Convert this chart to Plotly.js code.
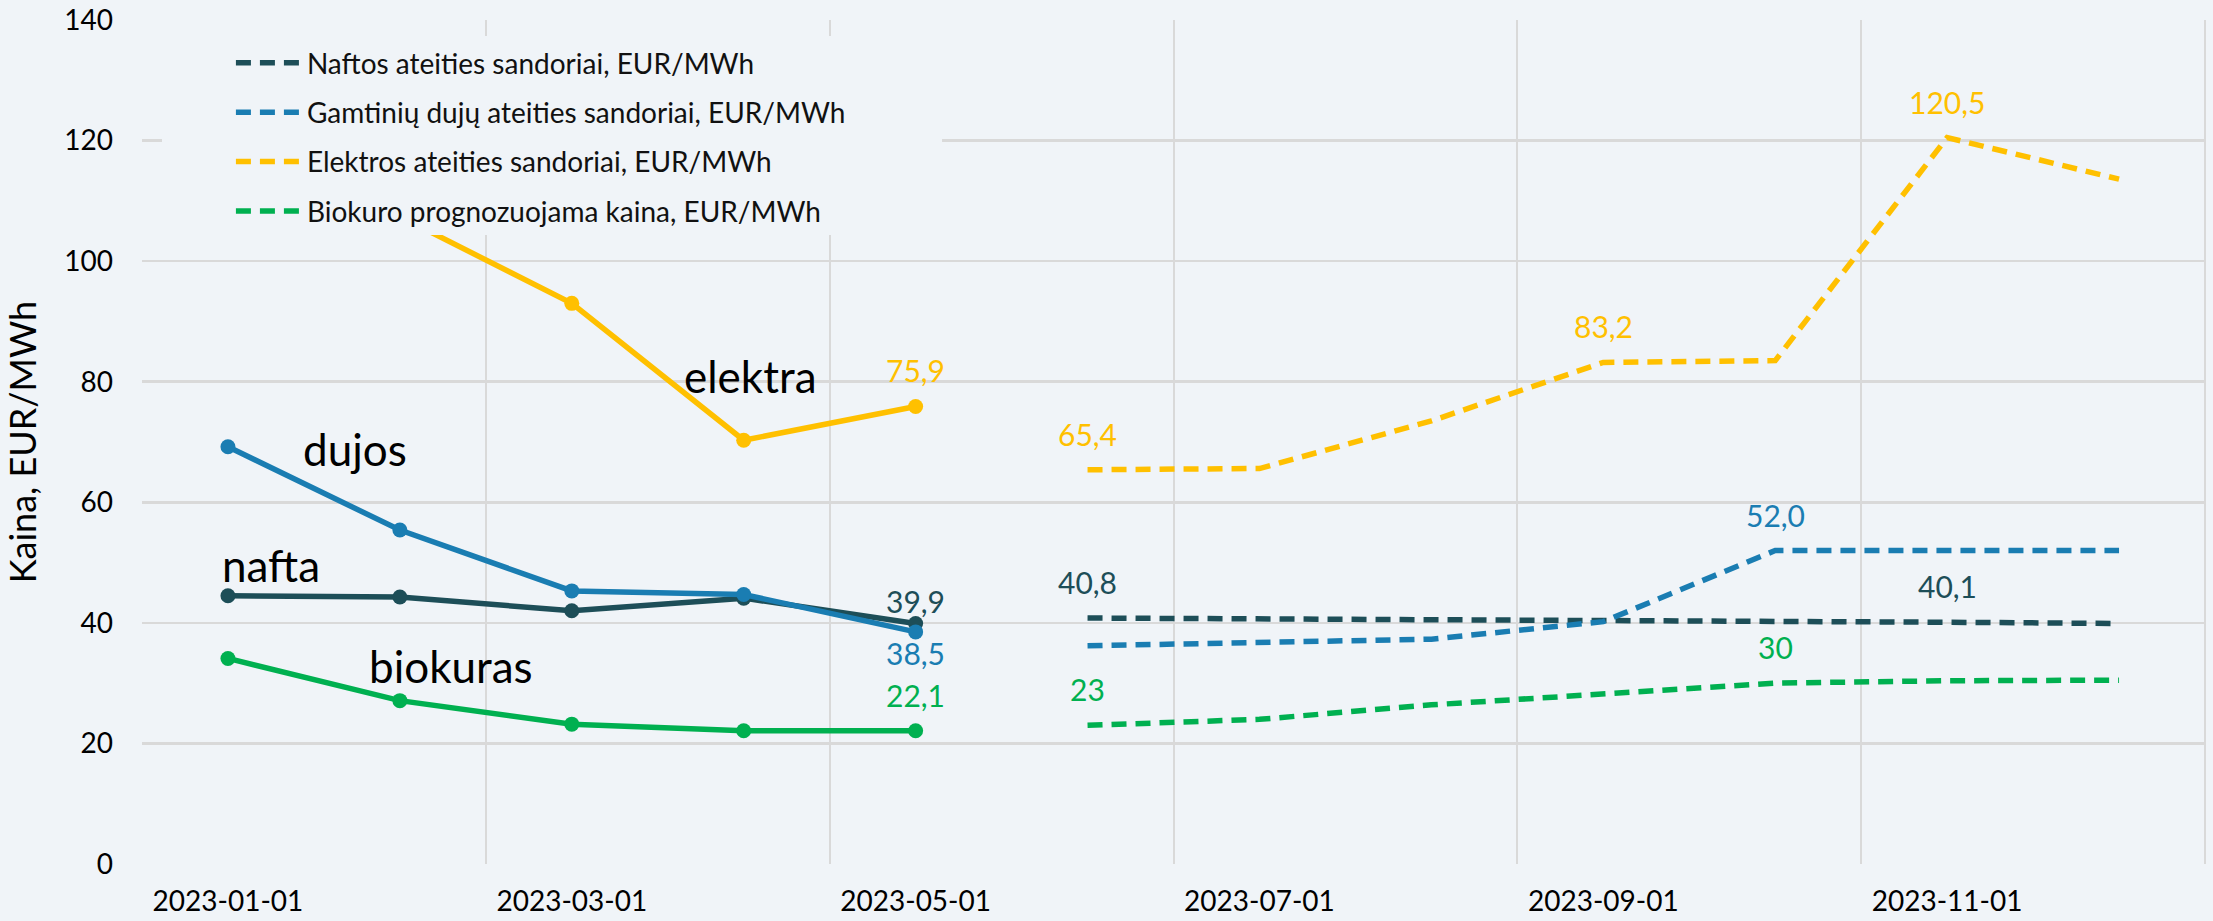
<!DOCTYPE html>
<html>
<head>
<meta charset="utf-8">
<script src="https://cdn.plot.ly/plotly-3.0.1.min.js"></script>
<style>
  html, body { margin: 0; padding: 0; background: #F0F4F8; }
  #chart { width: 2213px; height: 921px; }
</style>
</head>
<body>
<div id="chart"></div>
<script>
// ---- data ----
const months = ['2023-01-01','2023-02-01','2023-03-01','2023-04-01','2023-05-01','2023-06-01',
                '2023-07-01','2023-08-01','2023-09-01','2023-10-01','2023-11-01','2023-12-01'];
const tickLabels = ['2023-01-01','2023-03-01','2023-05-01','2023-07-01','2023-09-01','2023-11-01'];

const factMonths = ['2023-01-01','2023-02-01','2023-03-01','2023-04-01','2023-05-01'];
const futMonths  = ['2023-06-01','2023-07-01','2023-08-01','2023-09-01','2023-10-01','2023-11-01','2023-12-01'];

const naftaFact    = [44.5, 44.3, 42.0, 44.1, 39.9];
const dujosFact    = [69.2, 55.4, 45.3, 44.7, 38.5];
const elektraFact  = [118.0, 107.4, 93.0, 70.3, 75.9];
const biokurasFact = [34.1, 27.1, 23.2, 22.1, 22.1];

const naftaFut   = [40.8, 40.7, 40.6, 40.5, 40.3, 40.1, 39.9];
const dujosFut   = [36.2, 36.7, 37.3, 40.2, 52.0, 52.0, 52.0];
const elektraFut = [65.4, 65.6, 73.5, 83.2, 83.5, 120.5, 113.6];
const biokuroFut = [23.0, 24.0, 26.4, 28.3, 30.0, 30.4, 30.5];

const legendNames = [
  'Naftos ateities sandoriai, EUR/MWh',
  'Gamtinių dujų ateities sandoriai, EUR/MWh',
  'Elektros ateities sandoriai, EUR/MWh',
  'Biokuro prognozuojama kaina, EUR/MWh'
];
const seriesTags = ['nafta', 'dujos', 'elektra', 'biokuras'];

// data labels: which series, which point, text
const labelSeries = ['elektraFact','naftaFact','dujosFact','biokurasFact','naftaFut','biokuroFut',
                     'elektraFut','elektraFut','elektraFut','dujosFut','naftaFut','biokuroFut'];
const labelPoint  = [4, 4, 4, 4, 0, 0, 0, 3, 5, 4, 5, 4];
const labelText   = ['75,9','39,9','38,5','22,1','40,8','23','65,4','83,2','120,5','52,0','40,1','30'];

// ---- styling ----
const C = { nafta: '#1D4E58', dujos: '#1A7DB2', elektra: '#FFC000', biokuras: '#00B050' };
const BG = '#F0F4F8';
const GRID = '#D9D9D9';
const FONT = "Lato, 'Open Sans', 'Liberation Sans', sans-serif";

const idx = m => months.indexOf(m);
const factX = factMonths.map(idx);
const futX = futMonths.map(idx);

const series = {
  naftaFact, dujosFact, elektraFact, biokurasFact, naftaFut, dujosFut, elektraFut, biokuroFut
};
const seriesX = {
  naftaFact: factX, dujosFact: factX, elektraFact: factX, biokurasFact: factX,
  naftaFut: futX, dujosFut: futX, elektraFut: futX, biokuroFut: futX
};
const seriesColor = {
  naftaFact: C.nafta, dujosFact: C.dujos, elektraFact: C.elektra, biokurasFact: C.biokuras,
  naftaFut: C.nafta, dujosFut: C.dujos, elektraFut: C.elektra, biokuroFut: C.biokuras
};

const traces = [];
// solid (fact) lines, drawn first
[['elektraFact','elektra'],['biokurasFact','biokuras'],['naftaFact','nafta'],['dujosFact','dujos']].forEach(([k,t]) => {
  traces.push({
    type: 'scatter', mode: 'lines+markers', x: seriesX[k], y: series[k],
    line: { color: C[t], width: 5.5 },
    marker: { color: C[t], size: 15 },
    showlegend: false, hoverinfo: 'skip'
  });
});
// dashed futures lines with legend
const futKeys = ['naftaFut','dujosFut','elektraFut','biokuroFut'];
futKeys.forEach((k, i) => {
  traces.push({
    type: 'scatter', mode: 'lines', x: seriesX[k], y: series[k],
    name: legendNames[i], legendgroup: 'g' + i,
    line: { color: C[seriesTags[i]], width: 5.5, dash: '15px,9px' },
    hoverinfo: 'skip'
  });
});

const annotations = labelSeries.map((k, i) => {
  let shift = 36;
  if (k === 'naftaFact') shift = 22;
  if (k === 'dujosFact') shift = -21;
  return {
    x: seriesX[k][labelPoint[i]], y: series[k][labelPoint[i]],
    xref: 'x', yref: 'y', text: labelText[i], showarrow: false,
    yshift: shift, xanchor: 'center', yanchor: 'middle',
    font: { family: FONT, size: 30, color: seriesColor[k] }
  };
});

// big series names
const bigNames = [
  { text: 'elektra',  x: 3.04, y: 80.9 },
  { text: 'dujos',    x: 0.74, y: 68.8 },
  { text: 'nafta',    x: 0.25, y: 49.6 },
  { text: 'biokuras', x: 1.30, y: 32.8 }
];
bigNames.forEach(b => annotations.push({
  x: b.x, y: b.y, xref: 'x', yref: 'y', text: b.text, showarrow: false,
  xanchor: 'center', yanchor: 'middle',
  font: { family: FONT, size: 44, color: '#000000' }
}));

const layout = {
  width: 2213, height: 921,
  margin: { l: 142, r: 8, t: 20, b: 57 },
  paper_bgcolor: BG, plot_bgcolor: BG,
  font: { family: FONT, size: 28, color: '#000000' },
  showlegend: true,
  legend: {
    x: 0.0431, y: 0.9786, xanchor: 'left', yanchor: 'top',
    bgcolor: 'rgba(0,0,0,0)', borderwidth: 0,
    font: { family: FONT, size: 28, color: '#111111' },
    itemwidth: 66, tracegroupgap: 10, traceorder: 'grouped'
  },
  xaxis: {
    range: [-0.5, 11.5], tickmode: 'array',
    tickvals: tickLabels.map(idx), ticktext: tickLabels,
    showgrid: false, zeroline: false, showline: false, ticks: '',
    ticklabelstandoff: 18,
    tickfont: { family: FONT, size: 28, color: '#000000' },
    minor: { tickmode: 'linear', tick0: -0.5, dtick: 2, showgrid: true, gridcolor: GRID, gridwidth: 2, ticks: '' }
  },
  yaxis: {
    range: [0, 140], dtick: 20, tick0: 0,
    showgrid: true, gridcolor: GRID, gridwidth: 2.5,
    zeroline: false, showline: false, ticks: '',
    ticklabelstandoff: 28,
    tickfont: { family: FONT, size: 28, color: '#000000' },
    title: { text: 'Kaina, EUR/MWh', font: { family: FONT, size: 36, color: '#000000' }, standoff: 21 }
  },
  shapes: [
    { type: 'rect', xref: 'paper', yref: 'paper', x0: 0.0097, x1: 0.3878, y0: 0.7453, y1: 0.981,
      fillcolor: BG, line: { width: 0 }, layer: 'above' },
    { type: 'line', xref: 'paper', yref: 'paper', x0: 1, x1: 1, y0: 0, y1: 1,
      line: { color: GRID, width: 2 }, layer: 'below' }
  ],
  annotations: annotations
};

Plotly.newPlot('chart', traces, layout, { staticPlot: true });
</script>
</body>
</html>
